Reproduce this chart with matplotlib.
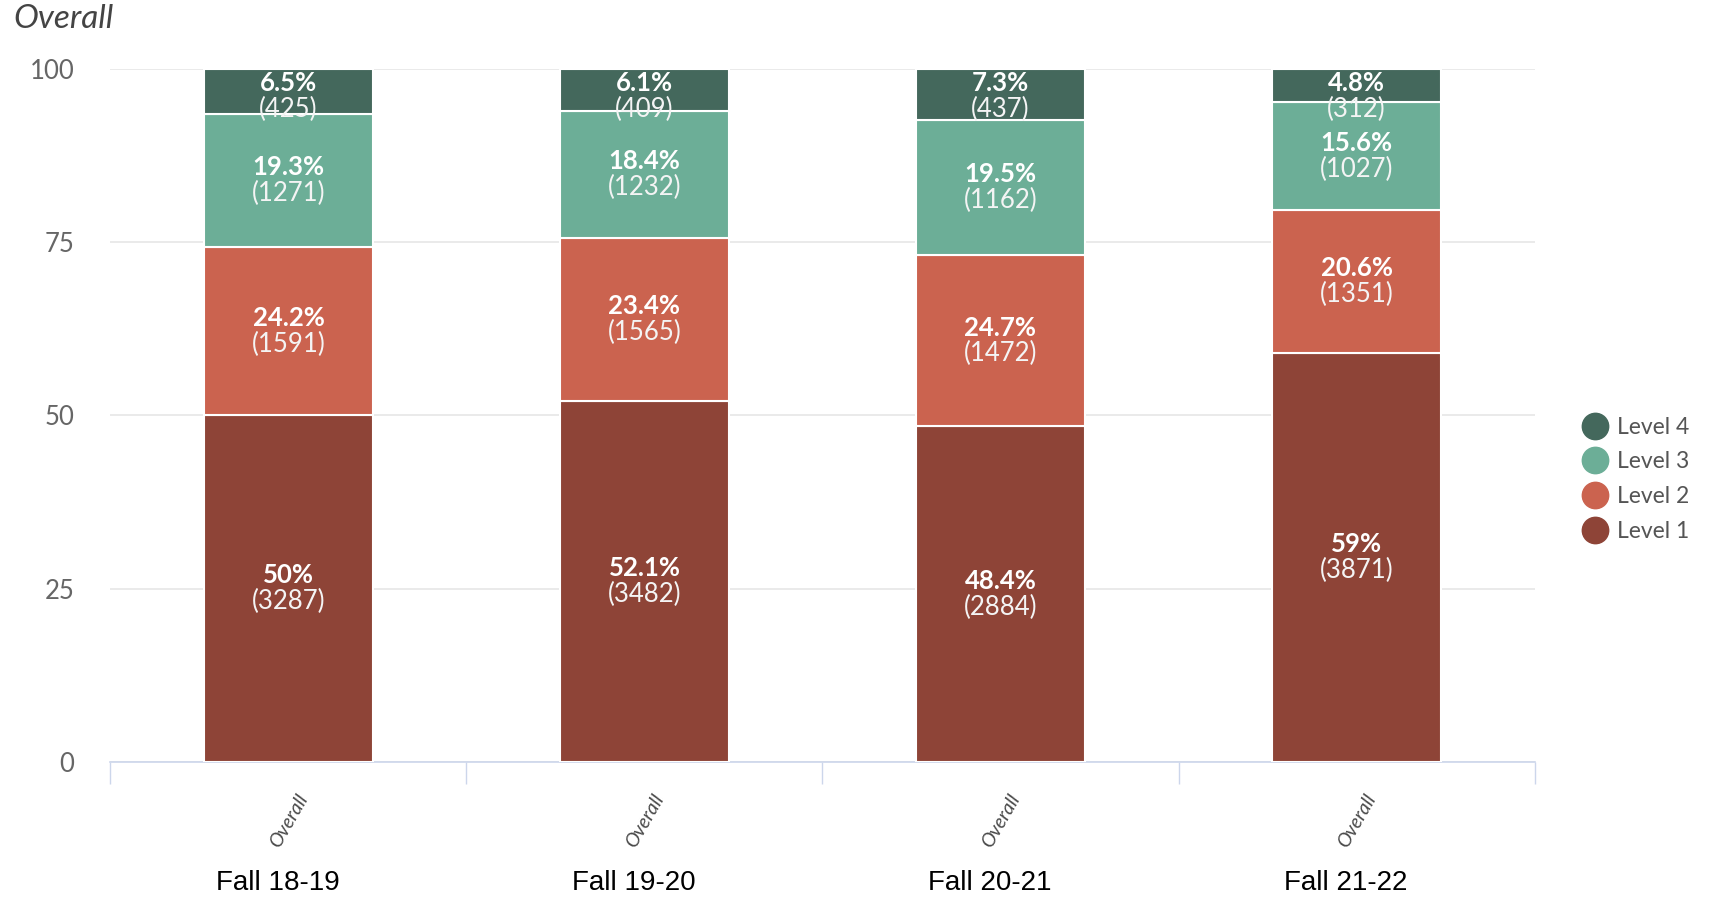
import numpy as np
import matplotlib.pyplot as plt
from matplotlib.lines import Line2D
from matplotlib.transforms import blended_transform_factory

terms = ["Fall 18-19", "Fall 19-20", "Fall 20-21", "Fall 21-22"]
levels = ["Level 1", "Level 2", "Level 3", "Level 4"]
pct = {
    "Level 1": [50.0, 52.1, 48.4, 59.0],
    "Level 2": [24.2, 23.4, 24.7, 20.6],
    "Level 3": [19.3, 18.4, 19.5, 15.6],
    "Level 4": [6.5, 6.1, 7.3, 4.8],
}
counts = {
    "Level 1": [3287, 3482, 2884, 3871],
    "Level 2": [1591, 1565, 1472, 1351],
    "Level 3": [1271, 1232, 1162, 1027],
    "Level 4": [425, 409, 437, 312],
}
colors = {"Level 1": "#8e4437", "Level 2": "#cb634f", "Level 3": "#6cae97", "Level 4": "#44685c"}

plt.rcParams['font.family'] = ['Lato', 'DejaVu Sans']

fig = plt.figure(figsize=(17.31, 8.99), dpi=100)
ax = fig.add_axes([0.0638, 0.1523, 0.8227, 0.7715])

x = np.arange(len(terms))
bottom = np.zeros(len(terms))
for lv in levels:
    vals = np.array(pct[lv])
    ax.bar(x, vals, width=0.475, bottom=bottom, color=colors[lv],
           edgecolor='white', linewidth=1.5, zorder=3)
    for i in range(len(terms)):
        # labels are kept inside the plot area, like the original
        yc = min(bottom[i] + vals[i] / 2, 96.0)
        ax.annotate(f"{vals[i]:g}%", (x[i], yc), xytext=(0, 9.5), textcoords='offset points',
                    ha='center', va='center', color='white', fontsize=18.5,
                    fontweight='bold', zorder=4)
        ax.annotate(f"({counts[lv][i]})", (x[i], yc), xytext=(0, -9.5), textcoords='offset points',
                    ha='center', va='center', color='#f4f4f4', fontsize=18.5, zorder=4)
    bottom += vals

ax.set_xlim(-0.5, len(terms) - 0.5)
ax.set_ylim(0, 100)
ax.set_yticks([0, 25, 50, 75, 100])
ax.tick_params(axis='y', length=0, pad=26, labelsize=18.5, labelcolor='#666666')
ax.yaxis.grid(True, color='#e6e6e6', linewidth=1.2, zorder=0)
ax.set_xticks(np.arange(len(terms) + 1) - 0.5)
ax.set_xticklabels([])
ax.tick_params(axis='x', length=16, width=1, color='#ccd6eb')
for s in ['top', 'right', 'left']:
    ax.spines[s].set_visible(False)
ax.spines['bottom'].set_color('#ccd6eb')
ax.spines['bottom'].set_linewidth(1.2)

trans = blended_transform_factory(ax.transData, ax.transAxes)
for i, t in enumerate(terms):
    ax.text(x[i], -0.085, "Overall", transform=trans, rotation=60,
            ha='center', va='center', fontsize=14, style='italic', color='#4a4a4a')
    ax.text(x[i] - 0.03, -0.174, t, transform=trans, ha='center', va='center',
            fontsize=20, color='black',
            family=['Liberation Sans Narrow', 'Liberation Sans', 'DejaVu Sans'])

fig.text(0.0075, 0.979, "Overall", ha='left', va='center', fontsize=24,
         style='italic', color='#444444')

handles = [Line2D([], [], linestyle='none', marker='o', markersize=19,
                  markerfacecolor=colors[lv], markeredgecolor=colors[lv])
           for lv in levels[::-1]]
fig.legend(handles, levels[::-1], loc='upper left', bbox_to_anchor=(0.9015, 0.5595),
           frameon=False, fontsize=16.5, labelcolor='#555555', labelspacing=0.6,
           handletextpad=0.35, handlelength=1.2)

fig.savefig("out.png", dpi=100)
